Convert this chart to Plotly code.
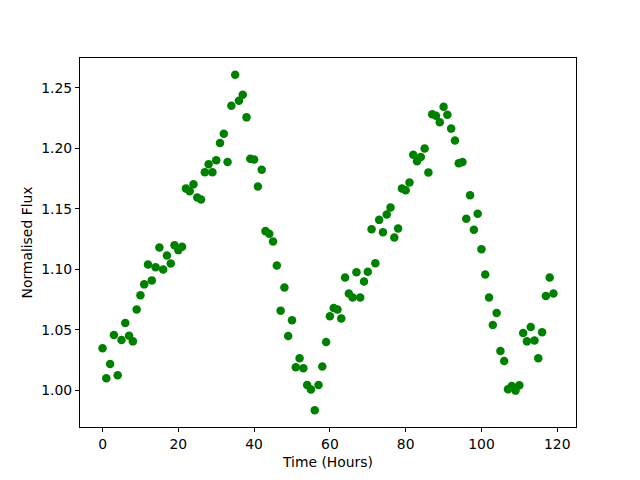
import plotly.graph_objects as go

hours = [0, 1, 2, 3, 4, 5, 6, 7, 8, 9, 10, 11, 12, 13, 14, 15, 16, 17, 18, 19,
         20, 21, 22, 23, 24, 25, 26, 27, 28, 29, 30, 31, 32, 33, 34, 35, 36, 37, 38, 39,
         40, 41, 42, 43, 44, 45, 46, 47, 48, 49, 50, 51, 52, 53, 54, 55, 56, 57, 58, 59,
         60, 61, 62, 63, 64, 65, 66, 67, 68, 69, 70, 71, 72, 73, 74, 75, 76, 77, 78, 79,
         80, 81, 82, 83, 84, 85, 86, 87, 88, 89, 90, 91, 92, 93, 94, 95, 96, 97, 98, 99,
         100, 101, 102, 103, 104, 105, 106, 107, 108, 109, 110, 111, 112, 113, 114, 115, 116, 117, 118, 119]

flux = [1.0347, 1.0099, 1.0217, 1.0456, 1.0124, 1.0415, 1.0555, 1.0450, 1.0404, 1.0668,
        1.0786, 1.0875, 1.1040, 1.0908, 1.1017, 1.1180, 1.0998, 1.1114, 1.1048, 1.1199,
        1.1158, 1.1185, 1.1667, 1.1644, 1.1702, 1.1592, 1.1576, 1.1801, 1.1867, 1.1801,
        1.1900, 1.2044, 1.2120, 1.1887, 1.2351, 1.2607, 1.2393, 1.2442, 1.2255, 1.1914,
        1.1906, 1.1683, 1.1823, 1.1315, 1.1293, 1.1229, 1.1031, 1.0658, 1.0850, 1.0448,
        1.0578, 1.0190, 1.0264, 1.0182, 1.0044, 1.0006, 0.9835, 1.0044, 1.0196, 1.0399,
        1.0611, 1.0679, 1.0668, 1.0594, 1.0932, 1.0800, 1.0767, 1.0976, 1.0767, 1.0899,
        1.0979, 1.1331, 1.1050, 1.1408, 1.1306, 1.1452, 1.1510, 1.1262, 1.1337, 1.1667,
        1.1653, 1.1716, 1.1947, 1.1892, 1.1927, 1.1997, 1.1799, 1.2280, 1.2269, 1.2214,
        1.2343, 1.2277, 1.2162, 1.2063, 1.1875, 1.1886, 1.1418, 1.1611, 1.1327, 1.1458,
        1.1166, 1.0957, 1.0767, 1.0539, 1.0638, 1.0324, 1.0242, 1.0008, 1.0035, 0.9997,
        1.0041, 1.0473, 1.0404, 1.0522, 1.0412, 1.0264, 1.0480, 1.0779, 1.0932, 1.0800]

x_ticks = [0, 20, 40, 60, 80, 100, 120]
y_ticks = [1.00, 1.05, 1.10, 1.15, 1.20, 1.25]

xmin, xmax = min(hours), max(hours)
ymin, ymax = min(flux), max(flux)
xpad = 0.05 * (xmax - xmin)
ypad = 0.05 * (ymax - ymin)

font = dict(family="DejaVu Sans", size=13.9, color="black")

fig = go.Figure(go.Scatter(
    x=hours, y=flux, mode="markers",
    marker=dict(color="#008000", size=8.5, line=dict(width=0)),
))

axis_common = dict(
    showline=True, mirror=True, linecolor="black", linewidth=1,
    ticks="outside", ticklen=4, tickwidth=1, tickcolor="black",
    showgrid=False, zeroline=False, tickfont=font,
)

# page body has an 8px margin, so the figure is offset by (8, 8)
fig.update_layout(
    width=632, height=472,
    paper_bgcolor="white", plot_bgcolor="white",
    margin=dict(l=72, r=64, t=50, b=53),
    showlegend=False,
    font=font,
    xaxis=dict(range=[xmin - xpad, xmax + xpad], tickvals=x_ticks,
               ticktext=[str(v) for v in x_ticks],
               title=dict(text="Time (Hours)", font=font, standoff=6),
               **axis_common),
    yaxis=dict(range=[ymin - ypad, ymax + ypad], tickvals=y_ticks,
               ticktext=["%.2f" % v for v in y_ticks],
               title=dict(text="Normalised Flux", font=font, standoff=5),
               **axis_common),
)

fig.write_html("out.html")
